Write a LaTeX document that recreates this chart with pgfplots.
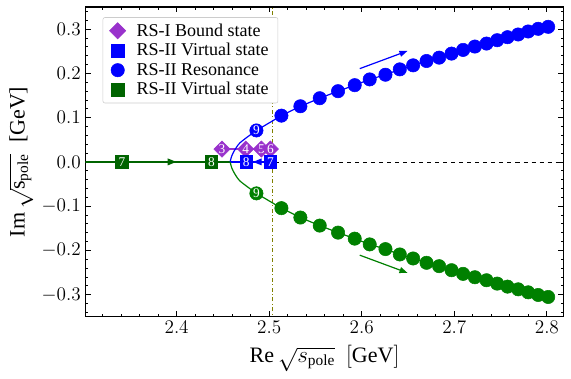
\documentclass[border=0pt]{standalone}
\usepackage{amsmath}
\usepackage{fontspec}
\setmainfont{Liberation Serif}
\usepackage{pgfplots}
\pgfplotsset{compat=1.18}
\usetikzlibrary{arrows.meta}
\definecolor{mpurple}{RGB}{153,50,204}
\definecolor{dgreen}{RGB}{0,100,0}
\definecolor{mgreen}{RGB}{0,128,0}
\definecolor{molive}{RGB}{128,128,0}
\begin{document}
\begin{tikzpicture}
\begin{axis}[
  scale only axis, width=358pt, height=232pt,
  xmin=2.3015, xmax=2.818, ymin=-0.35, ymax=0.35,
  xtick={2.3,2.4,2.5,2.6,2.7,2.8,2.9},
  ytick={-0.4,-0.3,-0.2,-0.1,0,0.1,0.2,0.3,0.4},
  minor x tick num=4, minor y tick num=4,
  tick align=inside,
  major tick length=4pt, minor tick length=2pt,
  tick style={black, line width=0.6pt},
  axis line style={line width=0.8pt},
  xticklabel style={/pgf/number format/.cd, fixed, fixed zerofill, precision=1},
  yticklabel style={/pgf/number format/.cd, fixed, fixed zerofill, precision=1},
  ticklabel style={font=\fontsize{14}{14}\selectfont},
  xlabel={$\mathrm{Re}\,\sqrt{s_{\mathrm{pole}}}\ \ [\mathrm{GeV}]$},
  ylabel={Im\,$\sqrt{\text{s}_{\text{pole}}}$\ \ [GeV]},
  label style={font=\fontsize{16.5}{16.5}\selectfont},
  xlabel style={yshift=-1.5pt},
  ylabel style={at={(axis description cs:-0.134,0.5)}, anchor=center, inner sep=0pt},
  legend style={at={(0.036,0.967)}, anchor=north west, draw=black!20, rounded corners=1.5pt,
    font=\fontsize{13.5}{14}\selectfont, row sep=0pt, column sep=6pt, inner xsep=5pt, inner ysep=2.5pt,
    cells={anchor=west}},
  legend cell align=left,
  every node near coord/.append style={anchor=center, text=white, font=\fontsize{10}{10}\selectfont, inner sep=0pt},
]
% reference lines
\addplot[black, dashed, line width=0.6pt, forget plot] coordinates {(2.29,0) (2.83,0)};
\addplot[molive, dash dot, line width=0.8pt, forget plot] coordinates {(2.504,-0.36) (2.504,0.36)};
% virtual state trajectories on real axis
\addplot[dgreen, line width=0.9pt, forget plot] coordinates {(2.29,0) (2.4578,0)};
\addplot[dgreen, line width=0.9pt, -{Triangle[length=6.5pt,width=5pt]}, forget plot] coordinates {(2.385,0) (2.3997,0)};
\addplot[blue, line width=0.9pt, forget plot] coordinates {(2.5013,0) (2.4578,0)};
\addplot[blue, line width=0.9pt, -{Triangle[length=6.5pt,width=5pt]}, forget plot] coordinates {(2.497,0) (2.4825,0)};
% bound states line
\addplot[mpurple, line width=0.9pt, forget plot] coordinates {(2.449,0.029) (2.5013,0.029)};
% resonance branches (curves)
\addplot[blue, line width=0.9pt, smooth, forget plot] coordinates {(2.4578,0) (2.4590,0.010) (2.4609,0.0198) (2.4640,0.031) (2.4681,0.0425) (2.4768,0.0568) (2.4862,0.0711)};
\addplot[mgreen, line width=0.9pt, smooth, forget plot] coordinates {(2.4578,0) (2.4590,-0.010) (2.4609,-0.0198) (2.4640,-0.031) (2.4681,-0.0425) (2.4768,-0.0568) (2.4862,-0.0711)};
\addplot[blue, line width=0.9pt, forget plot] coordinates {(2.4862,0.0711) (2.5132,0.1045) (2.5337,0.1257) (2.5546,0.1439) (2.5744,0.1598) (2.5924,0.1734) (2.6086,0.1864) (2.6256,0.1970) (2.6411,0.2091) (2.6555,0.2182) (2.6700,0.2280) (2.6836,0.2356) (2.6970,0.2447) (2.7095,0.2530) (2.7222,0.2606) (2.7348,0.2674) (2.7463,0.2750) (2.7575,0.2818) (2.7690,0.2879) (2.7798,0.2947) (2.7906,0.3007) (2.8014,0.3052)};
\addplot[mgreen, line width=0.9pt, forget plot] coordinates {(2.4862,-0.0711) (2.5132,-0.1045) (2.5337,-0.1257) (2.5546,-0.1439) (2.5744,-0.1598) (2.5924,-0.1734) (2.6086,-0.1864) (2.6256,-0.1970) (2.6411,-0.2091) (2.6555,-0.2182) (2.6700,-0.2280) (2.6836,-0.2356) (2.6970,-0.2447) (2.7095,-0.2530) (2.7222,-0.2606) (2.7348,-0.2674) (2.7463,-0.2750) (2.7575,-0.2818) (2.7690,-0.2879) (2.7798,-0.2947) (2.7906,-0.3007) (2.8014,-0.3052)};
% direction arrows
\addplot[blue, line width=0.9pt, -{Triangle[length=6pt,width=4.5pt]}, forget plot] coordinates {(2.5978,0.2107) (2.6494,0.2507)};
\addplot[mgreen, line width=0.9pt, -{Triangle[length=6pt,width=4.5pt]}, forget plot] coordinates {(2.5978,-0.2107) (2.6494,-0.2507)};
% markers
\addplot[only marks, mark=square*, mark size=4.3pt, mark options={rotate=45, fill=mpurple, draw=mpurple},
  nodes near coords, point meta=explicit symbolic] table[meta=lab] {
x y lab
2.4490 0.029 3
2.4746 0.029 4
2.4916 0.029 5
2.5013 0.029 6
};
\addlegendentry{RS-I Bound state}
\addplot[only marks, mark=square*, mark size=4.75pt, mark options={fill=blue, draw=blue},
  nodes near coords, point meta=explicit symbolic] table[meta=lab] {
x y lab
2.4753 0 8
2.5013 0 7
};
\addlegendentry{RS-II Virtual state}
\addplot[only marks, mark=*, mark size=5pt, mark options={fill=blue, draw=blue},
  nodes near coords, point meta=explicit symbolic] table[meta=lab] {
x y lab
2.4862 0.0711 9
};
\addlegendentry{RS-II Resonance}
\addplot[only marks, mark=square*, mark size=4.75pt, mark options={fill=dgreen, draw=dgreen},
  nodes near coords, point meta=explicit symbolic] table[meta=lab] {
x y lab
2.3409 0 7
2.4375 0 8
};
\addlegendentry{RS-II Virtual state}
\addplot[only marks, mark=*, mark size=5pt, mark options={fill=blue, draw=blue}, forget plot] coordinates {(2.5132,0.1045) (2.5337,0.1257) (2.5546,0.1439) (2.5744,0.1598) (2.5924,0.1734) (2.6086,0.1864) (2.6256,0.1970) (2.6411,0.2091) (2.6555,0.2182) (2.6700,0.2280) (2.6836,0.2356) (2.6970,0.2447) (2.7095,0.2530) (2.7222,0.2606) (2.7348,0.2674) (2.7463,0.2750) (2.7575,0.2818) (2.7690,0.2879) (2.7798,0.2947) (2.7906,0.3007) (2.8014,0.3052)};
\addplot[only marks, mark=*, mark size=5pt, mark options={fill=mgreen, draw=mgreen}, forget plot] coordinates {(2.5132,-0.1045) (2.5337,-0.1257) (2.5546,-0.1439) (2.5744,-0.1598) (2.5924,-0.1734) (2.6086,-0.1864) (2.6256,-0.1970) (2.6411,-0.2091) (2.6555,-0.2182) (2.6700,-0.2280) (2.6836,-0.2356) (2.6970,-0.2447) (2.7095,-0.2530) (2.7222,-0.2606) (2.7348,-0.2674) (2.7463,-0.2750) (2.7575,-0.2818) (2.7690,-0.2879) (2.7798,-0.2947) (2.7906,-0.3007) (2.8014,-0.3052)};
\addplot[only marks, mark=*, mark size=5pt, mark options={fill=mgreen, draw=mgreen},
  nodes near coords, point meta=explicit symbolic, forget plot] table[meta=lab] {
x y lab
2.4862 -0.0711 9
};
\end{axis}
\pgfresetboundingbox
\path[use as bounding box] ([xshift=-64pt,yshift=-46.5pt]current axis.south west) rectangle ([xshift=5.6pt,yshift=5.25pt]current axis.north east);
\end{tikzpicture}
\end{document}
